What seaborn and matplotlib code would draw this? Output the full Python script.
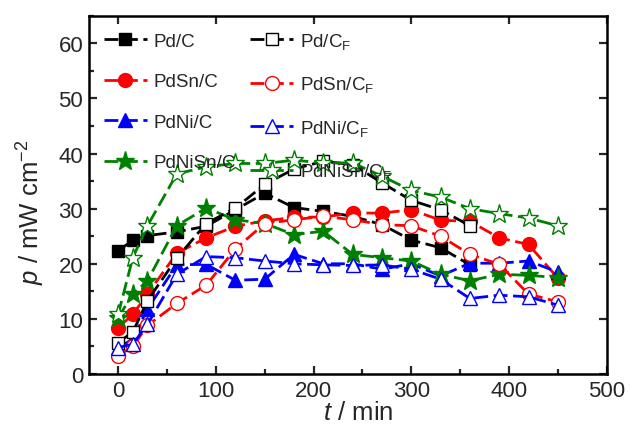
import matplotlib
matplotlib.use("Agg")
import matplotlib.pyplot as plt
from matplotlib.ticker import MultipleLocator
import seaborn as sns
import pandas as pd

sns.set_theme(style="ticks")
plt.rcParams["font.family"] = ["Liberation Sans", "DejaVu Sans"]
plt.rcParams["mathtext.fontset"] = "custom"
plt.rcParams["mathtext.rm"] = "Liberation Sans"
plt.rcParams["mathtext.it"] = "Liberation Sans:italic"

# Time points (min)
t_full = [0, 15, 30, 60, 90, 120, 150, 180, 210, 240, 270, 300, 330, 360, 390, 420, 450]
t_short = t_full[:14]

# Power density (mW cm^-2)
pd_c = [22.3, 24.3, 25.1, 25.8, 26.8, 29.8, 32.8, 30.2, 29.5, 28.6, 27.1, 24.3, 22.9, 19.8]
pd_cf = [5.7, 7.6, 13.3, 21.0, 27.3, 30.1, 34.4, 37.2, 38.6, 38.0, 34.7, 31.5, 29.8, 26.9]
pdsn_c = [8.4, 10.8, 14.5, 21.9, 24.7, 26.8, 27.8, 28.4, 28.5, 29.2, 29.2, 29.8, 27.9, 27.7, 24.7, 23.5, 17.4]
pdsn_cf = [3.3, 5.0, 8.8, 12.8, 16.1, 22.7, 27.3, 28.0, 28.6, 28.0, 27.1, 26.9, 25.0, 21.7, 19.9, 14.5, 13.1]
pdni_c = [4.8, 6.3, 11.8, 19.8, 19.9, 17.0, 17.2, 21.7, 20.0, 20.0, 19.0, 20.0, 17.8, 20.1, 20.1, 20.5, 18.5]
pdni_cf = [4.8, 5.4, 9.0, 18.1, 21.3, 21.1, 20.5, 20.0, 19.8, 19.7, 19.8, 19.0, 17.2, 13.7, 14.3, 14.0, 12.5]
pdnisn_c = [10.2, 14.5, 16.9, 26.9, 30.1, 28.0, 27.3, 25.3, 25.9, 21.7, 21.1, 20.5, 18.1, 16.9, 18.1, 17.9, 17.5]
pdnisn_cf = [10.8, 21.1, 26.9, 36.3, 37.6, 38.2, 38.2, 38.8, 38.3, 38.3, 35.9, 33.3, 32.1, 30.0, 29.1, 28.3, 26.9]

labels = ["Pd/C", "PdSn/C", "PdNi/C", "PdNiSn/C",
          r"Pd/C$_\mathrm{F}$", r"PdSn/C$_\mathrm{F}$", r"PdNi/C$_\mathrm{F}$", r"PdNiSn/C$_\mathrm{F}$"]
series = [
    (t_short, pd_c, "black", "s", True, 9),
    (t_full, pdsn_c, "red", "o", True, 10),
    (t_full, pdni_c, "blue", "^", True, 10),
    (t_full, pdnisn_c, "green", "*", True, 14),
    (t_short, pd_cf, "black", "s", False, 9),
    (t_full, pdsn_cf, "red", "o", False, 10),
    (t_full, pdni_cf, "blue", "^", False, 10),
    (t_full, pdnisn_cf, "green", "*", False, 14),
]

fig = plt.figure(figsize=(6.3, 4.31), dpi=100)
ax = fig.add_axes([0.141, 0.130, 0.822, 0.831])

for (x, y, color, marker, filled, ms), label in zip(series, labels):
    df = pd.DataFrame({"t": x, "p": y})
    sns.lineplot(data=df, x="t", y="p", ax=ax, color=color, marker=marker,
                 markersize=ms, markerfacecolor=color if filled else "white",
                 markeredgecolor=color, markeredgewidth=1.0,
                 linewidth=2.0, linestyle=(0, (5, 2)), label=label)

ax.set_xlim(-30, 500)
ax.set_ylim(0, 65)
ax.xaxis.set_major_locator(MultipleLocator(100))
ax.xaxis.set_minor_locator(MultipleLocator(50))
ax.yaxis.set_minor_locator(MultipleLocator(5))
ax.set_yticks([0, 10, 20, 30, 40, 50, 60])

ax.tick_params(which="major", direction="in", length=6, width=1.6, labelsize=16,
               top=True, right=True, pad=4)
ax.tick_params(which="minor", direction="in", length=3.5, width=1.6,
               top=False, right=False)
for s in ax.spines.values():
    s.set_linewidth(1.8)
    s.set_color("black")

ax.set_xlabel(r"$\mathit{t}$ / min", fontsize=18.5)
ax.set_ylabel(r"$\mathit{p}$ / mW cm$^{-2}$", fontsize=18.5)
ax.xaxis.set_label_coords(0.52, -0.072)
ax.yaxis.set_label_coords(-0.08, 0.455)

ax.legend(loc="upper left", ncol=2, frameon=False, fontsize=13.5,
          labelspacing=1.25, columnspacing=0.75, handlelength=2.3,
          handletextpad=0.35, borderaxespad=0.4, markerscale=1.0)

fig.savefig("out.png", dpi=100)
